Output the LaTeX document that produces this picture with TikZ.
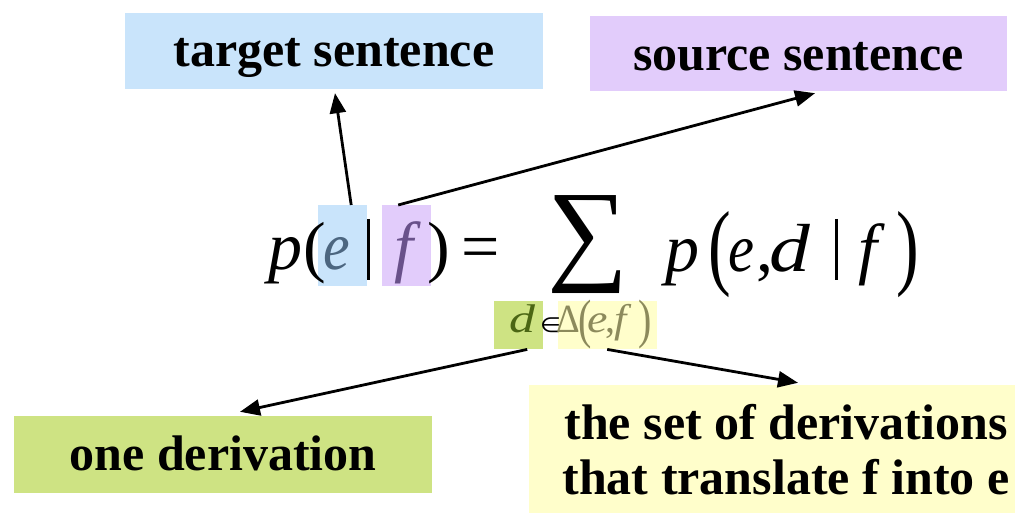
\documentclass[tikz,border=0pt]{standalone}
\usepackage{fontspec}
\setmainfont{Liberation Serif}
\newfontfamily\symfont{DejaVu Sans}
\usetikzlibrary{arrows.meta}
\definecolor{tgtblue}{HTML}{C9E4FB}
\definecolor{srcpurple}{HTML}{E2CCFB}
\definecolor{derivgreen}{HTML}{CEE383}
\definecolor{setyellow}{HTML}{FFFECB}
\definecolor{etext}{HTML}{4C6680}
\definecolor{ftext}{HTML}{69518A}
\definecolor{dtext}{HTML}{4B6614}
\definecolor{deltatext}{HTML}{8C8A5C}
\begin{document}
\begin{tikzpicture}[x=1pt,y=-1pt,
  lbl/.style={inner xsep=0pt, inner ysep=0pt, anchor=base,
    font=\fontsize{50}{55}\selectfont\bfseries},
  hl/.style={inner sep=0pt, anchor=north west},
  bigrm/.style={inner sep=0pt, anchor=base west, font=\fontsize{68}{68}\selectfont},
  bigit/.style={inner sep=0pt, anchor=base west, font=\fontsize{68}{68}\selectfont\itshape},
  smrm/.style={inner sep=0pt, anchor=base west, font=\fontsize{40}{40}\selectfont},
  smit/.style={inner sep=0pt, anchor=base west, font=\fontsize{40}{40}\selectfont\itshape},
  barline/.style={line width=3pt, black},
  conn/.style={line width=2.8pt, -{Triangle[length=20pt,width=16pt]}}]
\fill[white] (0,0) rectangle (1025,513);
\useasboundingbox (0,0) rectangle (1025,513);

% label boxes
\node[lbl, fill=tgtblue, minimum width=418, text height=54pt, text depth=22pt]
  (target) at (334,67) {target sentence};
\node[lbl, fill=srcpurple, minimum width=417, text height=55pt, text depth=20pt]
  (source) at (798.5,71) {source sentence};
\node[lbl, fill=derivgreen, minimum width=418, text height=54pt, text depth=23pt]
  (deriv) at (223,470) {one derivation};
\node[inner sep=0pt, fill=setyellow, minimum width=486, minimum height=129, align=center,
  font=\fontsize{50}{55}\selectfont\bfseries]
  (setbox) at (772,449.5) {\hspace*{28pt}the set of derivations\\\hspace*{28pt}that translate f into e};

% highlight boxes
\node[hl, fill=tgtblue, minimum width=49, minimum height=81] (hlE) at (318,205) {};
\node[hl, fill=srcpurple, minimum width=49, minimum height=81] (hlF) at (382,205) {};
\node[hl, fill=derivgreen, minimum width=49, minimum height=48] (hlD) at (494,301) {};
\node[hl, fill=setyellow, minimum width=99, minimum height=48] (hlDelta) at (558,301) {};

% formula, left side
\node[bigit] (p1) at (268,269) {p};
\node[bigrm] (lp1) at (303,269) {(};
\node[bigit, text=etext] (e1) at (323,269) {\scalebox{0.88}[1]{e}};
\draw[barline] (368.5,219) -- (368.5,280);
\node[bigit, text=ftext] (f1) at (394,269) {f};
\node[bigrm] (rp1) at (427,269) {)};
\node[bigrm] (eq) at (461,269) {=};
% sum
\node[inner sep=0pt, font=\fontsize{68}{68}\selectfont] (sum) at (587.5,245)
  {\resizebox*{81pt}{98pt}{∑}};
% formula, right side
\node[bigit] (p2) at (665,271) {p};
\node[bigrm] (lp2) at (708,277) {\scalebox{1}[1.4]{(}};
\node[bigit] (e2) at (728,271) {\scalebox{0.86}[1]{e}};
\node[bigrm] (comma) at (756,271) {,};
\node[bigit] (d2) at (769,271) {\scalebox{1.2}[1]{d}};
\draw[barline] (836.5,219) -- (836.5,280);
\node[bigit] (f2) at (858,271) {f};
\node[bigrm] (rp2) at (896,277) {\scalebox{1}[1.4]{)}};

% subscript
\node[smit, text=dtext] (d3) at (509,332) {\scalebox{1.3}[1]{d}};
\node[smrm] (in3) at (540,332) {{\symfont\scalebox{0.6}[0.52]{∈}}};
\node[smrm, text=deltatext] (Delta3) at (556,332) {\scalebox{0.92}[1]{Δ}};
\node[smrm, text=deltatext] (lp3) at (578,337) {\scalebox{1}[1.35]{(}};
\node[smit, text=deltatext] (e3) at (587,332) {\scalebox{1.15}[1]{e}};
\node[smrm, text=deltatext] (c3) at (605,332) {,};
\node[smit, text=deltatext] (f3) at (614,332) {\scalebox{1.1}[1]{f}};
\node[smrm, text=deltatext] (rp3) at (638,337) {\scalebox{1}[1.35]{)}};

% connectors
\draw[conn] ([xshift=8.5pt]hlE.north) -- ([xshift=1pt,yshift=-4pt]target.south);
\draw[conn] ([xshift=-8.5pt]hlF.north) -- ([xshift=16.5pt,yshift=-2pt]source.south);
\draw[conn] ([xshift=8.5pt]hlD.south) -- ([xshift=17pt,yshift=4pt]deriv.north);
\draw[conn] ([xshift=-0.5pt]hlDelta.south) -- ([xshift=26pt,yshift=2pt]setbox.north);
\end{tikzpicture}
\end{document}
